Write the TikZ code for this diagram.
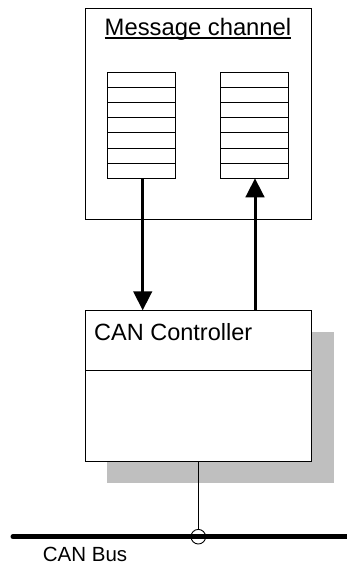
\documentclass[tikz,border=0pt]{standalone}
\usepackage{fontspec}
\setmainfont{Liberation Sans}
\usetikzlibrary{arrows.meta,calc}
\begin{document}
\begin{tikzpicture}[x=1pt,y=-1pt,
  thinbox/.style={draw=black,line width=0.9pt,fill=white,inner sep=0pt,outer sep=0pt},
  queuebox/.style={draw=black,line width=0.9pt,inner sep=0pt,outer sep=0pt,minimum width=68pt,minimum height=106pt},
  flow/.style={line width=3pt,-{Triangle[length=19pt,width=18.5pt]}},
  lbl/.style={inner sep=0pt,anchor=base west,font=\fontsize{23.5}{26}\selectfont}]
\useasboundingbox (0,0) rectangle (346,567);
% message channel box
\node[thinbox,anchor=north west,minimum width=226pt,minimum height=211.7pt] (mc) at (85,8) {};
\node[inner sep=0pt,anchor=base,font=\fontsize{23.8}{26}\selectfont] (mctitle) at (198,35.7) {Message channel};
\draw[line width=1.3pt] ($(mctitle.base west)+(0,2.2)$) -- ($(mctitle.base east)+(0,2.2)$);
% queues
\node[queuebox,anchor=north west] (q1) at (107.7,72.3) {};
\node[queuebox,anchor=north west] (q2) at (220.7,72.3) {};
\foreach \q in {q1,q2}{
  \foreach \i in {1,...,6}{
    \draw[line width=0.9pt] ($(\q.north west)!\i/7!(\q.south west)$) -- ($(\q.north east)!\i/7!(\q.south east)$);
  }
}
% shadow
\fill[gray!50] (107,332) rectangle (334,483);
% CAN controller box
\node[thinbox,anchor=north west,minimum width=225.3pt,minimum height=150.7pt] (can) at (85.7,310.3) {};
\draw[line width=0.9pt] (85.7,370.7) -- (311,370.7);
\node[lbl] (cantext) at (94,340) {CAN Controller};
% arrows
\draw[flow] (q1.south -| 142.7,0) -- (can.north -| 142.7,0);
\draw[flow] (can.north -| 255,0) -- (q2.south -| 255,0);
% bus
\coordinate (busL) at (13,536.7);
\coordinate (busR) at (350,536.7);
\draw[line width=5pt,line cap=round] (busL) -- (busR);
\node[draw=black,line width=0.9pt,circle,minimum size=14.6pt,inner sep=0pt] (tap) at (198.3,536.7) {};
\draw[line width=0.9pt] (can.south -| tap) -- (tap.north);
\node[inner sep=0pt,anchor=base west,font=\fontsize{20.5}{24}\selectfont] (bustext) at (42.7,561.7) {CAN Bus};
\end{tikzpicture}
\end{document}
